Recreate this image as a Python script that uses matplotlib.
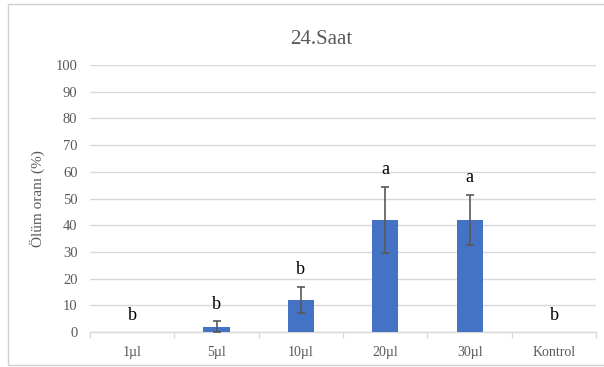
import matplotlib.pyplot as plt
import numpy as np
from matplotlib.patches import Rectangle

plt.rcParams["font.family"] = ["Liberation Serif", "DejaVu Serif"]

categories = ["1µl", "5µl", "10µl", "20µl", "30µl", "Kontrol"]
mortality = [0, 2, 12, 42, 42, 0]
errors = [0, 2, 5, 12.5, 9.5, 0]
letters = ["b", "b", "b", "a", "a", "b"]

BAR_COLOR = "#4472C4"
GRID_COLOR = "#D9D9D9"
TEXT_GRAY = "#595959"


def main() -> None:
    fig = plt.figure(figsize=(6.04, 3.67), dpi=100)
    ax = fig.add_axes([0.149, 0.095, 0.838, 0.728])

    x = np.arange(len(categories))
    has_err = [e > 0 for e in errors]
    ax.bar(x, mortality, width=0.31, color=BAR_COLOR, zorder=3)
    ax.errorbar(
        x[has_err],
        np.array(mortality)[has_err],
        yerr=np.array(errors)[has_err],
        fmt="none",
        ecolor="#595959",
        elinewidth=1.2,
        capsize=3,
        capthick=1.2,
        zorder=4,
    )

    # significance letters above each bar
    for xi, val, err, lab in zip(x, mortality, errors, letters):
        ax.annotate(
            lab,
            (xi, val + err),
            xytext=(0, 6),
            textcoords="offset points",
            ha="center",
            va="bottom",
            fontsize=13,
            color="black",
        )

    ax.set_xlim(-0.5, len(categories) - 0.5)
    ax.set_ylim(0, 100)
    ax.set_yticks(np.arange(0, 101, 10))
    ax.yaxis.grid(True, color=GRID_COLOR, linewidth=1.0, zorder=0)
    ax.set_axisbelow(True)

    ax.set_xticks(x)
    ax.set_xticklabels(categories, fontsize=10, color=TEXT_GRAY)
    ax.set_xticks(np.arange(-0.5, len(categories), 1), minor=True)
    ax.tick_params(axis="x", which="major", length=0, pad=10)
    ax.tick_params(axis="x", which="minor", length=4, color=GRID_COLOR, width=1)
    ax.tick_params(axis="y", length=0, labelsize=10.5, labelcolor=TEXT_GRAY, pad=9)

    for side in ["top", "right", "left"]:
        ax.spines[side].set_visible(False)
    ax.spines["bottom"].set_color(GRID_COLOR)
    ax.spines["bottom"].set_linewidth(1.0)

    ax.set_ylabel("Ölüm oranı (%)", fontsize=11, color=TEXT_GRAY, labelpad=8)
    fig.text(0.532, 0.893, "24.Saat", ha="center", va="center",
             fontsize=15, color=TEXT_GRAY)

    # light chart-area border
    fig.patches.append(
        Rectangle((0.013, 0.005), 1.2, 0.983, transform=fig.transFigure,
                  fill=False, edgecolor="#D0D0D0", linewidth=1.0)
    )

    fig.savefig("out.png", dpi=100)
    plt.close(fig)


if __name__ == "__main__":
    main()
